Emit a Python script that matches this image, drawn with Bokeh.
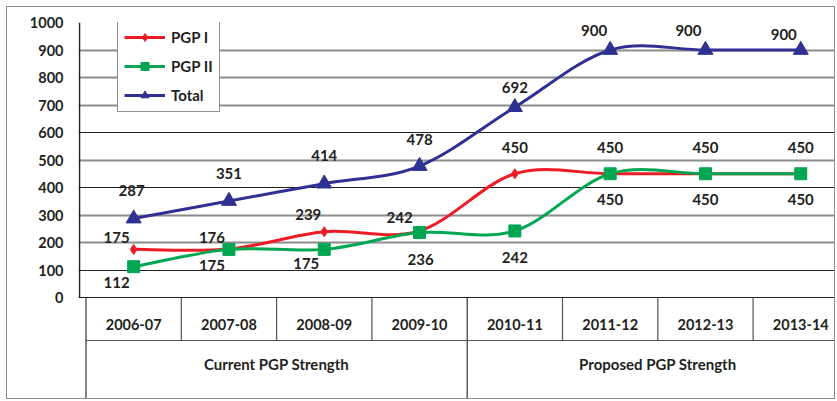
from bokeh.plotting import figure
from bokeh.models import FixedTicker, Grid, Range1d, ColumnDataSource
from bokeh.core.properties import value
from bokeh.embed import file_html
from bokeh.resources import INLINE

# ---------------- data ----------------
categories = ["2006-07", "2007-08", "2008-09", "2009-10",
              "2010-11", "2011-12", "2012-13", "2013-14"]
groups = ["Current PGP Strength", "Proposed PGP Strength"]
group_sizes = [4, 4]
pgp1 = [175, 176, 239, 242, 450, 450, 450, 450]
pgp2 = [112, 175, 175, 236, 242, 450, 450, 450]
total = [287, 351, 414, 478, 692, 900, 900, 900]
y_ticks = [0, 100, 200, 300, 400, 500, 600, 700, 800, 900, 1000]

# ---------------- styles ----------------
FONT = value("Lato")
TXT = "#231f20"
RED, GREEN, NAVY = "#ED1C24", "#00A651", "#2E3192"
PX_PER_UNIT = 0.275          # screen px per y unit
# label offsets (screen px)
p1_dx = [-17, -17, -16, -20, 0, 0, 0, 0]
p1_dy = [-12, -12, -17, -13, -26, -26, -26, -26]
p2_dx = [-17, -17, -18, 1, 0, 0, 0, 0]
p2_dy = [16, 16, 14, 27, 27, 26, 26, 26]
t_dx = [-2, 0, 0, 0, 0, -16, -17, -17]
t_dy = [-28, -27, -28, -27, -20, -20, -20, -16]

n = len(categories)
xs = [i + 0.5 for i in range(n)]

W, H = 829, 393
x_start, x_end = -0.0787, 7.875
y_end = 1000
y_start = y_end - 378 / PX_PER_UNIT

p = figure(width=W, height=H, output_backend="svg", toolbar_location=None,
           x_range=Range1d(x_start, x_end), y_range=Range1d(y_start, y_end),
           x_axis_location=None, min_border_left=71, min_border_top=15,
           min_border_right=0, min_border_bottom=0,
           styles={"border": "1px solid #8c8c8c", "margin-left": "6px", "margin-top": "6px"})
p.outline_line_color = None
p.background_fill_color = "white"
p.xgrid.visible = False

# y axis
ax = p.yaxis[0]
ax.ticker = FixedTicker(ticks=y_ticks)
ax.axis_line_color = None
ax.major_tick_line_color = None
ax.minor_tick_line_color = None
ax.major_label_standoff = 9
ax.major_label_text_font = "Lato"
ax.major_label_text_font_style = "bold"
ax.major_label_text_font_size = "14.5px"
ax.major_label_text_color = TXT

# grid lines
p.ygrid.ticker = FixedTicker(ticks=[0, 100, 400, 600, 1000])
p.ygrid.grid_line_color = "#231f20"
p.ygrid.grid_line_width = 1.2
p.add_layout(Grid(dimension=1, ticker=FixedTicker(ticks=[200, 300, 500, 700, 800, 900]),
                  grid_line_color="#8c8c8c", grid_line_width=2))

# y axis line (plot area only)
p.segment(x0=[-0.068], y0=[y_ticks[0]], x1=[-0.068], y1=[y_ticks[-1]],
          line_color="#231f20", line_width=1.5)

# ---------------- table below plot ----------------
row_line = -156.4
cat_y = -98.2
grp_y = -240
bounds = [0]
for s in group_sizes:
    bounds.append(bounds[-1] + s)
inner = [i for i in range(n + 1) if i not in bounds]
p.segment(x0=inner, y0=[0] * len(inner), x1=inner, y1=[row_line] * len(inner),
          line_color="#555555", line_width=1.2)
p.segment(x0=bounds, y0=[0] * len(bounds), x1=bounds, y1=[y_start - 20] * len(bounds),
          line_color="#333333", line_width=1.2)
p.segment(x0=[0], y0=[row_line], x1=[n], y1=[row_line], line_color="#555555", line_width=1.2)
p.text(x=xs, y=[cat_y] * n, text=categories, text_align="center", text_baseline="middle",
       text_font=FONT, text_font_style="bold", text_font_size="14.5px", text_color=TXT)
gx = [(bounds[i] + bounds[i + 1]) / 2 for i in range(len(groups))]
p.text(x=gx, y=[grp_y] * len(groups), text=groups, text_align="center", text_baseline="middle",
       text_font=FONT, text_font_style="bold", text_font_size="15px", text_color=TXT)


# ---------------- smoothed series ----------------
def bez(x, y):
    m = len(x)
    d = dict(x0=[], y0=[], x1=[], y1=[], cx0=[], cy0=[], cx1=[], cy1=[])
    for i in range(m - 1):
        xp, yp = (x[i - 1], y[i - 1]) if i > 0 else (x[i], y[i])
        xn, yn = (x[i + 2], y[i + 2]) if i + 2 < m else (x[i + 1], y[i + 1])
        d["x0"].append(x[i]); d["y0"].append(y[i])
        d["x1"].append(x[i + 1]); d["y1"].append(y[i + 1])
        d["cx0"].append(x[i] + (x[i + 1] - xp) / 6)
        d["cy0"].append(y[i] + (y[i + 1] - yp) / 6)
        d["cx1"].append(x[i + 1] - (xn - x[i]) / 6)
        d["cy1"].append(y[i + 1] - (yn - y[i]) / 6)
    return ColumnDataSource(d)


series = [
    ("PGP I", pgp1, RED, "diamond", 10),
    ("PGP II", pgp2, GREEN, "square", 12),
    ("Total", total, NAVY, "triangle", 15),
]
for name, ys, col, mk, sz in series:
    p.bezier(x0="x0", y0="y0", x1="x1", y1="y1", cx0="cx0", cy0="cy0", cx1="cx1", cy1="cy1",
             source=bez(xs, ys), line_color=col, line_width=3, legend_label=name)
    p.scatter(x=xs, y=ys, marker=mk, size=sz, fill_color=col, line_color=col, legend_label=name)

for ys, dx, dy in [(pgp1, p1_dx, p1_dy), (pgp2, p2_dx, p2_dy), (total, t_dx, t_dy)]:
    src = ColumnDataSource(dict(x=xs, y=ys, t=[str(v) for v in ys], dx=dx, dy=dy))
    p.text(x="x", y="y", text="t", x_offset="dx", y_offset="dy", source=src,
           text_align="center", text_baseline="middle", text_font=FONT,
           text_font_style="bold", text_font_size="15px", text_color=TXT)

# ---------------- legend ----------------
lg = p.legend[0]
lg.location = (39, 288)
lg.padding = 6
lg.spacing = 9
lg.margin = 0
lg.glyph_width = 41
lg.glyph_height = 20
lg.label_standoff = 6
lg.label_text_font = "Lato"
lg.label_text_font_style = "bold"
lg.label_text_font_size = "15px"
lg.label_text_color = TXT
lg.border_line_color = "#231f20"
lg.border_line_width = 1
lg.background_fill_color = "white"
lg.background_fill_alpha = 1

open("out.html", "w").write(file_html(p, INLINE))
